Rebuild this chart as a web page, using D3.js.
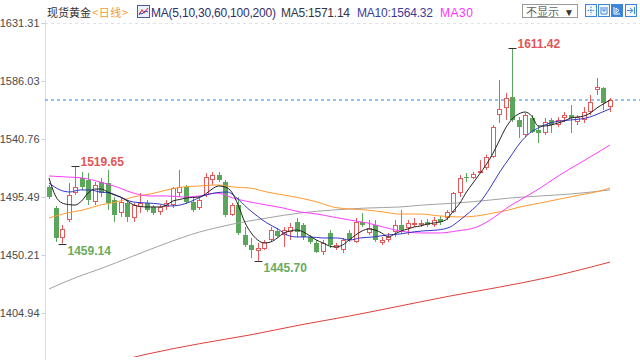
<!DOCTYPE html>
<html><head><meta charset="utf-8">
<script src="https://cdn.jsdelivr.net/npm/d3@7"></script>
<style>body{margin:0;background:#fff}svg{display:block}</style>
</head><body><svg id="c" width="640" height="360"></svg>
<script>
// ---- data ----
const openP =[1503.3,1486.9,1463.5,1477.5,1498.6,1510.3,1508.8,1491.6,1507.2,1506.4,1493.1,1483.0,1490.8,1479.1,1487.7,1490.8,1487.7,1483.8,1487.7,1489.2,1498.6,1503.3,1491.6,1486.9,1497.1,1508.8,1512.7,1507.2,1481.4,1489.2,1465.8,1458.0,1453.3,1454.9,1461.9,1469.0,1465.8,1468.2,1476.0,1473.6,1464.3,1459.6,1452.6,1467.4,1455.7,1454.1,1467.4,1460.4,1476.0,1467.4,1473.6,1459.6,1461.9,1468.2,1473.6,1471.3,1473.6,1473.6,1476.0,1473.6,1478.3,1479.1,1483.8,1498.6,1511.1,1510.3,1514.2,1518.1,1526.7,1559.5,1565.0,1573.5,1555.6,1543.9,1557.2,1547.8,1545.4,1555.6,1551.7,1557.2,1559.5,1554.0,1555.6,1561.8,1579.0,1580.6,1565.7];
const highP =[1504.9,1488.5,1473.6,1506.4,1519.65,1515.0,1514.2,1507.2,1510.3,1516.6,1495.5,1494.7,1493.1,1490.8,1498.6,1493.1,1489.2,1489.2,1493.1,1503.3,1516.6,1504.9,1494.7,1495.5,1514.2,1515.0,1515.0,1508.8,1490.8,1495.5,1472.1,1463.5,1459.6,1461.9,1472.1,1471.3,1472.1,1475.2,1479.1,1475.2,1465.8,1461.9,1461.9,1469.7,1459.6,1463.5,1469.7,1479.1,1483.0,1477.5,1477.5,1464.3,1467.4,1477.5,1485.3,1477.5,1479.1,1477.5,1478.3,1479.9,1480.7,1485.3,1499.4,1512.7,1514.2,1515.0,1524.3,1528.6,1551.7,1586.8,1576.7,1611.42,1557.9,1561.0,1559.5,1551.7,1557.2,1557.2,1557.9,1561.8,1567.3,1559.5,1565.7,1575.1,1588.4,1581.3,1572.8];
const lowP  =[1494.0,1460.4,1459.14,1476.0,1497.1,1500.9,1489.2,1489.2,1495.5,1485.3,1476.0,1479.9,1476.0,1476.0,1483.0,1483.8,1481.4,1481.4,1485.3,1486.9,1495.5,1490.0,1483.8,1485.3,1495.5,1504.9,1507.2,1479.9,1480.7,1465.8,1456.5,1447.8,1445.70,1454.1,1460.4,1463.5,1456.5,1461.9,1464.3,1461.9,1458.8,1451.7,1450.2,1455.7,1454.1,1451.7,1460.4,1459.6,1472.1,1465.8,1460.4,1458.0,1460.4,1464.3,1467.4,1465.8,1472.1,1472.1,1472.1,1472.1,1473.6,1477.5,1483.0,1495.5,1507.2,1509.5,1514.2,1516.6,1525.9,1553.2,1555.6,1554.0,1541.5,1542.3,1545.4,1537.6,1543.9,1545.4,1550.1,1554.0,1545.4,1551.7,1553.2,1559.5,1575.1,1563.4,1561.8];
const closeP=[1495.5,1463.5,1470.5,1497.1,1503.3,1503.3,1493.1,1504.9,1498.6,1490.8,1481.4,1491.6,1479.9,1489.2,1490.8,1485.3,1483.0,1487.7,1490.8,1502.5,1503.3,1491.6,1485.3,1493.1,1511.1,1512.7,1508.8,1481.4,1489.2,1467.4,1458.0,1454.1,1455.7,1460.4,1469.7,1465.0,1469.7,1472.1,1468.2,1464.3,1460.4,1452.6,1459.6,1458.0,1458.0,1461.9,1461.9,1476.0,1473.6,1471.3,1461.9,1461.9,1464.3,1473.6,1469.7,1475.2,1475.2,1475.2,1473.6,1477.5,1476.0,1483.8,1498.6,1510.3,1510.3,1513.4,1515.8,1526.7,1550.1,1564.2,1572.8,1555.6,1550.1,1559.5,1546.2,1545.4,1554.0,1551.7,1555.6,1559.5,1557.2,1557.9,1561.8,1569.6,1581.3,1568.9,1571.14];

const yTicks=[1404.94,1450.21,1495.49,1540.76,1586.03,1631.31];

const ma5Val=[1510.3,1496.3,1490.8,1489.6,1489.2,1492.4,1498.6,1501.7,1501.7,1499.4,1497.1,1495.5,1492.4,1489.2,1488.1,1487.7,1487.7,1487.7,1489.2,1492.4,1493.5,1494.7,1495.1,1495.5,1497.8,1501.7,1504.1,1503.3,1499.4,1489.2,1476.0,1467.4,1461.9,1459.6,1460.4,1463.5,1467.4,1469.0,1469.7,1468.2,1465.1,1461.9,1459.6,1457.2,1456.5,1458.0,1461.9,1465.8,1469.0,1470.5,1469.7,1467.4,1464.3,1466.6,1469.0,1470.5,1472.1,1472.9,1474.4,1475.2,1476.0,1478.3,1484.6,1490.8,1499.4,1506.4,1513.4,1520.5,1529.0,1539.2,1549.3,1556.4,1560.3,1561.8,1558.7,1550.9,1550.9,1551.7,1553.2,1554.8,1557.2,1557.9,1558.7,1561.1,1565.0,1568.1,1571.14];

const ma10Idx=[0,1.7,3.2,4.8,6.3,7.8,9.4,10.9,12.9,15.0,17.0,18.5,20.1,21.6,23.6,25.4,27.3,28.8,30.4,31.9,33.4,35.1,36.5,38.0,40.0,42.0,44.2,46.1,47.7,49.7,51.8,53.8,55.8,57.3,59.5,61.5,63.0,64.5,66.1,67.6,69.1,70.7,72.2,73.7,75.3,76.8,78.3,79.9,81.5,82.9,84.5,86];
const ma10Val=[1506.4,1501.0,1499.4,1501.0,1501.0,1499.4,1498.6,1495.5,1491.6,1490.8,1490.0,1488.5,1489.2,1491.6,1496.3,1498.6,1499.4,1494.7,1486.9,1480.7,1475.2,1470.5,1465.8,1464.3,1464.3,1463.5,1463.5,1461.9,1463.5,1464.3,1465.8,1466.6,1468.2,1469.0,1469.7,1472.1,1477.5,1483.8,1491.6,1502.5,1515.0,1526.7,1537.6,1545.4,1550.1,1553.2,1554.8,1555.6,1556.4,1557.9,1561.1,1564.32];

const ma30Idx=[0,2.8,5.2,7.8,10.4,12.9,15.5,18.1,20.5,23.1,25.8,28.2,30.8,33.4,35.9,38.5,41.1,43.5,46.1,48.8,51.2,53.8,56.9,59.9,62.5,65.6,68.1,70.4,72.2,75.3,78.3,81.4,84.5,86];
const ma30Val=[1511.9,1511.1,1510.3,1507.2,1503.3,1498.6,1496.3,1496.3,1495.5,1496.3,1498.6,1494.7,1491.6,1489.2,1486.9,1483.8,1482.2,1479.9,1477.5,1475.2,1472.1,1469.0,1467.4,1467.4,1469.0,1472.1,1479.1,1487.7,1493.1,1502.5,1512.7,1522.0,1531.4,1536.1];

const ma60Idx=[0,2.8,5.2,7.8,10.4,12.9,15.5,18.1,20.5,23.1,25.8,28.2,30.8,33.4,35.9,38.5,41.1,43.5,46.1,48.8,51.2,53.8,56.9,59.9,63.0,65.6,68.1,70.4,72.2,75.3,78.3,81.4,84.5,86];
const ma60Val=[1479.1,1483.0,1485.3,1489.2,1491.6,1495.5,1497.8,1501.0,1503.3,1504.1,1504.9,1503.3,1502.5,1499.4,1497.1,1494.7,1491.6,1487.7,1486.1,1485.3,1483.8,1482.2,1482.2,1480.7,1479.9,1480.7,1483.0,1485.3,1487.7,1490.8,1493.9,1497.1,1500.2,1502.5];

const ma100Idx=[0,4.3,7.8,12.9,18.1,23.1,26.2,28.2,33.4,38.5,43.5,48.8,53.8,57.3,62.5,67.6,70.7,75.3,79.9,86];
const ma100Val=[1423.7,1433.0,1439.3,1449.4,1459.6,1468.2,1472.1,1474.4,1479.1,1483.0,1485.3,1486.9,1487.7,1489.2,1490.8,1493.1,1494.7,1496.3,1497.8,1501.0];

const ma200Idx=[0,14.7,23.1,30.8,38.5,46.1,53.8,61.5,69.1,76.8,86];
const ma200Val=[1352.0,1372.5,1381.0,1387.8,1395.6,1402.6,1410.4,1418.2,1425.2,1433.0,1444.7];

const lastPrice=1571.14;
const markIdx=[4,71,2,32];
const markVal=[1519.65,1611.42,1459.14,1445.70];
const markKind=["high","high","low","low"];

const title="现货黄金", period="<日线>", maLabel="MA(5,10,30,60,100,200)";
const legendNames=["MA5:1571.14","MA10:1564.32","MA30"];

// ---- drawing ----
const svg=d3.select("#c");
const W=640,H=360, L=45, T=23, B=357;
const x=d3.scaleLinear().domain([0,86]).range([49,610]);
const y=d3.scaleLinear().domain([1404.94,1631.31]).range([313,23]);
const RED="#e5595b", GREEN="#5aa65a";
const FONT="'Liberation Sans','Noto Sans CJK SC',Arial,sans-serif";
const CJK="'Noto Sans CJK SC',sans-serif";

svg.append("defs").append("clipPath").attr("id","clip").append("rect")
  .attr("x",L).attr("y",T).attr("width",W-L).attr("height",B-T);

// top dashed grid line
svg.append("line").attr("x1",L).attr("x2",W).attr("y1",y(yTicks[yTicks.length-1])+0.5).attr("y2",y(yTicks[yTicks.length-1])+0.5)
  .attr("stroke","#dde3ea").attr("stroke-dasharray","3,3");

// axis
const ax=svg.append("g").attr("transform",`translate(${L+0.5},0)`)
  .call(d3.axisLeft(y).tickValues(yTicks).tickFormat(d3.format(".2f")).tickSize(4).tickPadding(2));
ax.select(".domain").remove();
ax.selectAll(".tick line").attr("stroke","#c3d0dd");
ax.selectAll(".tick text").attr("fill","#4a4a4a").style("font-family",FONT).style("font-size","11px");
svg.append("line").attr("x1",L+0.5).attr("x2",L+0.5).attr("y1",T-3).attr("y2",H)
  .attr("stroke","#d6dee7");

const plot=svg.append("g").attr("clip-path","url(#clip)");

// last price dashed line
plot.append("line").attr("x1",L).attr("x2",W).attr("y1",Math.round(y(lastPrice))).attr("y2",Math.round(y(lastPrice)))
  .attr("stroke","#6fb0f0").attr("stroke-width",1.6).attr("stroke-dasharray","3,3");

// candles
const data=openP.map((o,i)=>({i,o,h:highP[i],l:lowP[i],c:closeP[i]}));
const cg=plot.append("g");
data.forEach(d=>{
  const cx=Math.round(x(d.i));
  const up=d.c>=d.o;
  const col=up?RED:GREEN;
  cg.append("line").attr("x1",cx+0.5).attr("x2",cx+0.5).attr("y1",y(d.h)).attr("y2",y(d.l))
    .attr("stroke",col).attr("stroke-width",1);
  const top=Math.round(y(Math.max(d.o,d.c))), bot=Math.round(y(Math.min(d.o,d.c)));
  if(up){
    cg.append("rect").attr("x",cx-1.5).attr("y",top+0.5).attr("width",4).attr("height",Math.max(1,bot-top-1))
      .attr("fill","#fff").attr("stroke",col).attr("stroke-width",1);
  } else {
    cg.append("rect").attr("x",cx-2).attr("y",top).attr("width",5).attr("height",Math.max(1,bot-top))
      .attr("fill",col);
  }
});

// MA lines
function maLine(idx,val,color){
  const pts=idx.map((v,k)=>[v,val[k]]);
  plot.append("path").datum(pts)
    .attr("d",d3.line().x(p=>x(p[0])).y(p=>y(p[1])).curve(d3.curveMonotoneX))
    .attr("fill","none").attr("stroke",color).attr("stroke-width",1);
}
maLine(ma200Idx,ma200Val,"#e0403a");
maLine(ma100Idx,ma100Val,"#a3a3a3");
maLine(ma60Idx,ma60Val,"#ff9a2e");
maLine(ma30Idx,ma30Val,"#ff3cff");
maLine(ma10Idx,ma10Val,"#3535c8");
maLine(ma5Val.map((v,i)=>i),ma5Val,"#222222");

// extreme markers
markIdx.forEach((mi,k)=>{
  const cx=Math.round(x(mi))+0.5, py=Math.round(y(markVal[k]))+0.5;
  svg.append("line").attr("x1",cx-4).attr("x2",cx+4).attr("y1",py).attr("y2",py).attr("stroke","#333");
  const hi=markKind[k]==="high";
  svg.append("text").attr("x",cx+5).attr("y",hi?py-1:py+10)
    .attr("fill",hi?"#e25556":"#6aab5e").style("font-family",FONT).style("font-size","12px").style("font-weight","bold")
    .text(markVal[k].toFixed(2));
});

// header
const hy=17;
svg.append("text").attr("x",47).attr("y",hy).attr("fill","#333").style("font-family",CJK).style("font-size","11px").text(title);
svg.append("text").attr("x",92).attr("y",hy).attr("fill","#f39a3a").style("font-family",CJK).style("font-size","11px")
  .attr("textLength",36).text(period);
// MA icon
const ic=svg.append("g").attr("transform","translate(137,5)");
ic.append("rect").attr("x",0.5).attr("y",0.5).attr("width",12).attr("height",12).attr("fill","#eef2ff").attr("stroke","#4a5aa8");
ic.append("path").attr("d","M2,10 L5,5 L7,8 L11,3").attr("fill","none").attr("stroke","#e04040").attr("stroke-width",1.2);
ic.append("path").attr("d","M2,8 L5,9 L8,6 L11,7").attr("fill","none").attr("stroke","#3a48c0").attr("stroke-width",1);
svg.append("text").attr("x",151).attr("y",hy).attr("fill","#2f2f6a").style("font-family",FONT).style("font-size","12px")
  .attr("textLength",125).text(maLabel);
const legCols=["#333344","#3a3a9a","#ff33ff"], legX=[281,357,440], legW=[69,76,33];
legendNames.forEach((t,k)=>svg.append("text").attr("x",legX[k]).attr("y",hy).attr("fill",legCols[k])
  .style("font-family",FONT).style("font-size","12px").attr("textLength",legW[k]).text(t));

// dropdown
svg.append("rect").attr("x",522.5).attr("y",4.5).attr("width",55).attr("height",13).attr("fill","#fff").attr("stroke","#9a9a9a");
svg.append("text").attr("x",526).attr("y",15.5).attr("fill","#666").style("font-family",CJK).style("font-size","11px").text("不显示");
svg.append("text").attr("x",564).attr("y",15.5).attr("fill","#333").style("font-family",FONT).style("font-size","10px").text("▼");

// tool icons
const icons=[585,598,611,625];
icons.forEach((ix,k)=>{
  const g=svg.append("g").attr("transform",`translate(${ix},4)`);
  g.append("rect").attr("x",0.5).attr("y",0.5).attr("width",11).attr("height",12)
    .attr("fill",k===2?"#3d85d8":"#f4f8fd").attr("stroke","#3d85d8");
  const s=k===2?"#fff":"#3d85d8";
  if(k===0){g.append("path").attr("d","M6,2.5 V10.5 M2.5,6.5 H9.5").attr("stroke",s).attr("stroke-dasharray","1.5,1");}
  if(k===1){g.append("path").attr("d","M3,3 V10 H9 V3 M5,3 V7 H7 V3").attr("fill","none").attr("stroke",s);}
  if(k===2){g.append("path").attr("d","M3,3 V10 H9 M5,4 L8,6.5 L5,9 Z").attr("fill","none").attr("stroke",s);}
  if(k===3){g.append("path").attr("d","M2,6.5 H7 M5,4 L8,6.5 L5,9 M9.5,3 V10").attr("fill","none").attr("stroke",s);}
});
</script></body></html>
